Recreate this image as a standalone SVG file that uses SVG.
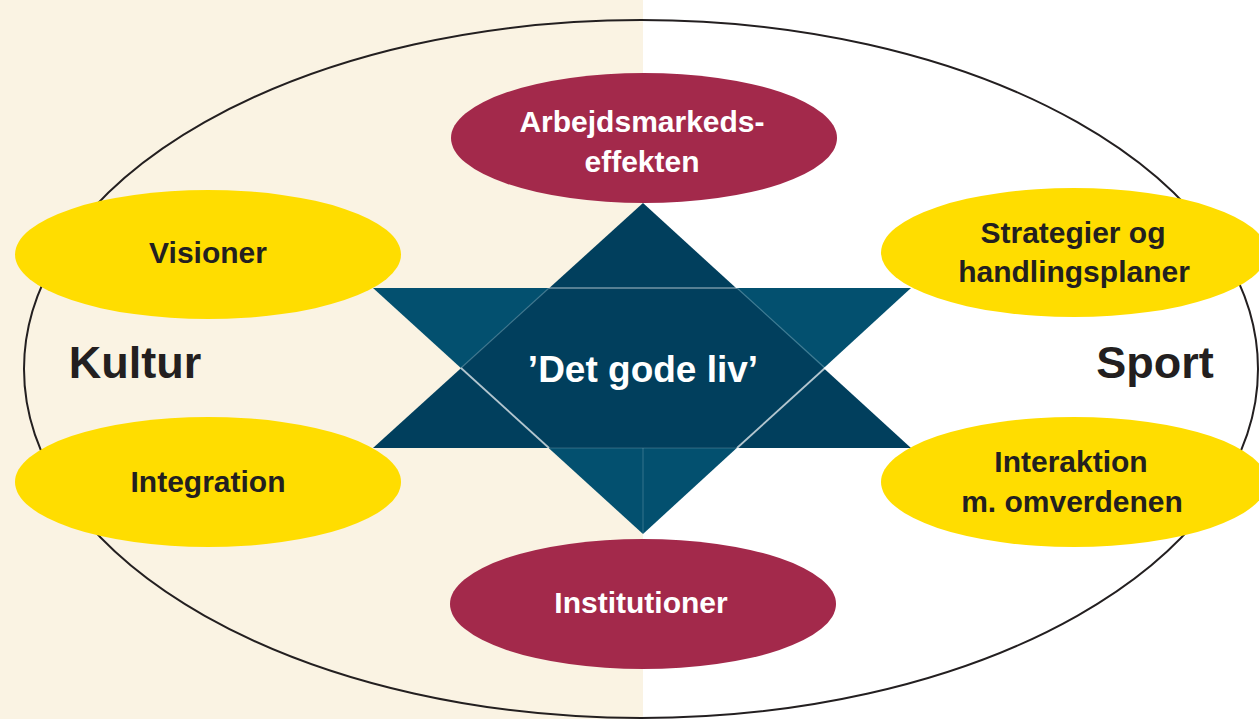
<svg xmlns="http://www.w3.org/2000/svg" width="1259" height="719" viewBox="0 0 1259 719">
<style>
.lbl{font-family:"Liberation Sans",Arial,sans-serif;font-weight:700;text-anchor:middle}
.dark{fill:#231F20}
.white{fill:#FFFFFF}
.y{fill:#FFDD00}
.r{fill:#A3294B}
.seam{stroke:#FFFFFF;fill:none}
</style>
<rect x="0" y="0" width="1259" height="719" fill="#FFFFFF"/>
<rect x="0" y="0" width="643" height="719" fill="#FAF3E3"/>
<ellipse cx="641" cy="369" rx="617" ry="349" fill="none" stroke="#231F20" stroke-width="2"/>
<text class="lbl dark" x="135" y="378" font-size="45">Kultur</text>
<text class="lbl dark" x="1155" y="378" font-size="45">Sport</text>
<g id="star">
<polygon points="373,288 911,288 643,534" fill="#03506F"/>
<polygon points="643,203 911,448 373,448" fill="#013F5D"/>
<g class="seam">
<line x1="549" y1="288" x2="737" y2="288" stroke-opacity="0.45" stroke-width="1.5"/>
<line x1="461" y1="368" x2="549" y2="448" stroke-opacity="0.7" stroke-width="1.8"/>
<line x1="825" y1="368" x2="737" y2="448" stroke-opacity="0.7" stroke-width="1.8"/>
<line x1="549" y1="288" x2="461" y2="368" stroke-opacity="0.25" stroke-width="1.2"/>
<line x1="737" y1="288" x2="825" y2="368" stroke-opacity="0.25" stroke-width="1.2"/>
<line x1="549" y1="448" x2="737" y2="448" stroke-opacity="0.2" stroke-width="1.2"/>
<line x1="643" y1="448" x2="643" y2="534" stroke-opacity="0.2" stroke-width="1"/>
</g>
<text class="lbl white" x="643" y="382" font-size="37">’Det gode liv’</text>
</g>
<g id="arbejdsmarkedseffekten">
<ellipse class="r" cx="644" cy="138" rx="193" ry="65"/>
<text class="lbl white" x="642" y="132" font-size="30">Arbejdsmarkeds-</text>
<text class="lbl white" x="642" y="172" font-size="30">effekten</text>
</g>
<g id="institutioner">
<ellipse class="r" cx="643" cy="604" rx="193" ry="65"/>
<text class="lbl white" x="641" y="613" font-size="30">Institutioner</text>
</g>
<g id="visioner">
<ellipse class="y" cx="208" cy="254.5" rx="193" ry="64.5"/>
<text class="lbl dark" x="208" y="263" font-size="30">Visioner</text>
</g>
<g id="integration">
<ellipse class="y" cx="208" cy="482" rx="193" ry="65"/>
<text class="lbl dark" x="208" y="492" font-size="30">Integration</text>
</g>
<g id="strategier">
<ellipse class="y" cx="1074" cy="252.5" rx="193" ry="64.5"/>
<text class="lbl dark" x="1073" y="243" font-size="30">Strategier og</text>
<text class="lbl dark" x="1074" y="282" font-size="30">handlingsplaner</text>
</g>
<g id="interaktion">
<ellipse class="y" cx="1074" cy="482" rx="193" ry="65"/>
<text class="lbl dark" x="1071" y="472" font-size="30">Interaktion</text>
<text class="lbl dark" x="1072" y="512" font-size="30">m. omverdenen</text>
</g>
<g id="connectors"></g>
</svg>
